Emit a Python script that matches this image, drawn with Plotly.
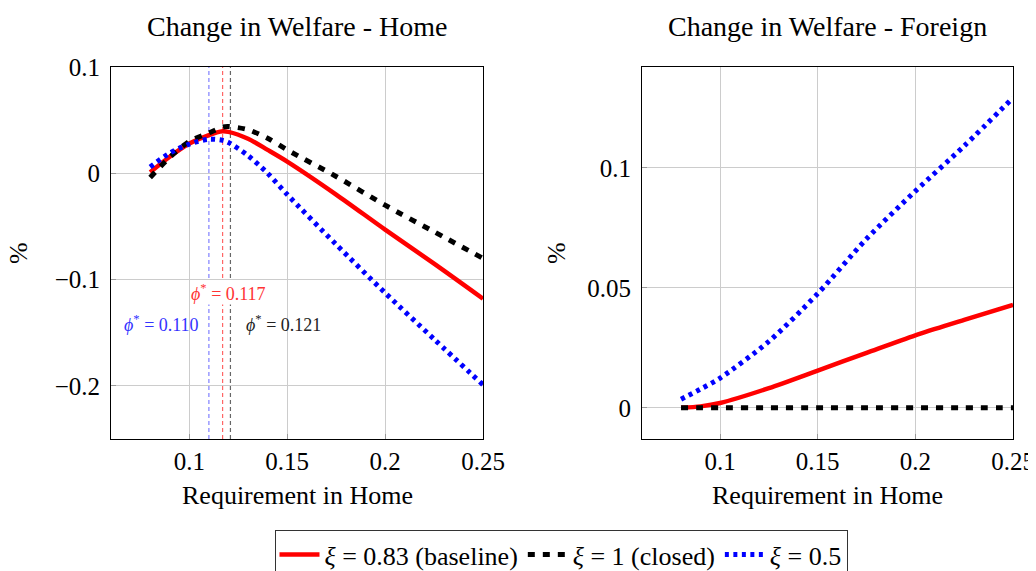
'''
Welfare change charts (Home / Foreign) for different values of xi.
'''

import plotly.graph_objects as go
from plotly.subplots import make_subplots

# requirement grid
req = [0.08, 0.09, 0.10, 0.11, 0.117, 0.12, 0.13, 0.14, 0.15,
       0.175, 0.2, 0.225, 0.25]

# change in welfare - Home (%)
home_base = [0.001, 0.0156, 0.028, 0.036, 0.0395, 0.039, 0.0325, 0.022,
             0.011, -0.020, -0.053, -0.085, -0.118]
home_closed = [-0.004, 0.015, 0.030, 0.038, 0.0435, 0.044, 0.041,
               0.033, 0.022, -0.003, -0.030, -0.055, -0.080]
home_half = [0.006, 0.019, 0.0275, 0.032, 0.031, 0.029, 0.0166, 0.0,
             -0.020, -0.067, -0.1125, -0.156, -0.199]

# change in welfare - Foreign (%)
req_f = [0.08, 0.09, 0.10, 0.125, 0.15, 0.175, 0.2, 0.225, 0.25]
foreign_base = [0.0, 0.0006, 0.002, 0.0082, 0.0155, 0.0229, 0.0302,
                0.0366, 0.0429]
foreign_closed = [0.0, 0.0, 0.0, 0.0, 0.0, 0.0, 0.0, 0.0, 0.0]
foreign_half = [0.0036, 0.0078, 0.0124, 0.0277, 0.0476, 0.0704, 0.0903,
                0.1091, 0.1292]

# optimal requirements
phi_star = [0.110, 0.117, 0.121]
phi_labels = ['0.110', '0.117', '0.121']

names = ['<i>ξ</i> = 0.83 (baseline)', '<i>ξ</i> = 1 (closed)',
         '<i>ξ</i> = 0.5']

FONT = 'Liberation Serif'
RED, BLACK, BLUE = '#ff0000', '#000000', '#0000ff'

# page body adds 8px around the figure
W, H = 1028, 563

styles = [
    dict(color=RED, width=4.5, dash='solid'),
    dict(color=BLACK, width=5, dash='7px,8px'),
    dict(color=BLUE, width=5, dash='4px,4.5px'),
]

fig = make_subplots(rows=1, cols=2)

home = [home_base, home_closed, home_half]
foreign = [foreign_base, foreign_closed, foreign_half]

for i in range(3):
    fig.add_trace(go.Scatter(x=req, y=home[i], mode='lines', name=names[i],
                             line=dict(shape='spline', smoothing=0.8,
                                       **styles[i]),
                             legendgroup=str(i)), row=1, col=1)
    fig.add_trace(go.Scatter(x=req_f, y=foreign[i], mode='lines',
                             name=names[i], showlegend=False,
                             line=dict(shape='spline', smoothing=0.8,
                                       **styles[i]),
                             legendgroup=str(i)), row=1, col=2)

# vertical markers for phi*
line_cols = ['rgba(0,0,255,0.5)', 'rgba(255,0,0,0.6)', 'rgba(0,0,0,0.6)']
for phi, col in zip(phi_star, line_cols):
    fig.add_shape(type='line', xref='x', yref='y domain', x0=phi, x1=phi,
                  y0=0, y1=1, layer='below',
                  line=dict(color=col, width=1.2, dash='4px,3px'))

txt_cols = ['#3333ff', '#ff3333', '#222222']
pos = [(0.1056, -0.141, 'right', 'rgba(0,0,0,0)'),
       (0.1198, -0.112, 'center', 'white'),
       (0.1283, -0.141, 'left', 'rgba(0,0,0,0)')]
for (x, y, anc, bg), col, lab in zip(pos, txt_cols, phi_labels):
    fig.add_annotation(x=x, y=y, xref='x', yref='y', xanchor=anc,
                       showarrow=False, bgcolor=bg, borderpad=0,
                       text=f'<i>ϕ</i><sup>*</sup> = {lab}',
                       font=dict(family=FONT, size=18, color=col))

axis_common = dict(showline=True, mirror=True, linecolor='black',
                   linewidth=1, showgrid=True, gridcolor='#cccccc',
                   gridwidth=1, ticks='inside', ticklen=5,
                   tickcolor='#999999', zeroline=False,
                   tickfont=dict(family=FONT, size=25, color='black'))

fig.update_xaxes(range=[0.06, 0.25], tickvals=[0.1, 0.15, 0.2, 0.25],
                 ticktext=['0.1', '0.15', '0.2', '0.25'], **axis_common)
fig.update_yaxes(ticklabelstandoff=5, **axis_common)
fig.update_yaxes(range=[-0.25, 0.1], tickvals=[0.1, 0, -0.1, -0.2],
                 ticktext=['0.1', '0', '−0.1', '−0.2'], row=1, col=1)
fig.update_yaxes(range=[-0.013, 0.142], tickvals=[0, 0.05, 0.1],
                 ticktext=['0', '0.05', '0.1'], row=1, col=2)

fig.update_layout(
    xaxis=dict(domain=[103 / W, 475 / W]),
    xaxis2=dict(domain=[634 / W, 1005 / W]),
    yaxis=dict(domain=[1 - 431 / H, 1 - 59 / H]),
    yaxis2=dict(domain=[1 - 431 / H, 1 - 59 / H]))

# titles and axis labels
for x, title in [(289, 'Change in Welfare - Home'),
                 (819, 'Change in Welfare - Foreign')]:
    fig.add_annotation(x=x / W, y=1 - 19 / H, xref='paper', yref='paper',
                       xanchor='center', yanchor='middle', showarrow=False,
                       text=title,
                       font=dict(family=FONT, size=28, color='black'))

for x in [289, 819]:
    fig.add_annotation(x=x / W, y=1 - 487 / H, xref='paper', yref='paper',
                       xanchor='center', yanchor='middle', showarrow=False,
                       text='Requirement in Home',
                       font=dict(family=FONT, size=26, color='black'))

for x in [11, 549]:
    fig.add_annotation(x=x / W, y=1 - 245 / H, xref='paper', yref='paper',
                       xanchor='center', yanchor='middle', showarrow=False,
                       text='%', textangle=-90,
                       font=dict(family=FONT, size=26, color='black'))

fig.update_layout(
    width=W, height=H,
    margin=dict(l=0, r=0, t=0, b=0, autoexpand=False),
    paper_bgcolor='white', plot_bgcolor='white',
    font=dict(family=FONT, color='black'),
    legend=dict(orientation='h', x=553 / W, xanchor='center',
                y=1 - 522 / H, yanchor='top',
                bordercolor='#333333', borderwidth=1,
                font=dict(family=FONT, size=26, color='black'),
                itemwidth=40, tracegroupgap=0))

fig.write_html('out.html')
